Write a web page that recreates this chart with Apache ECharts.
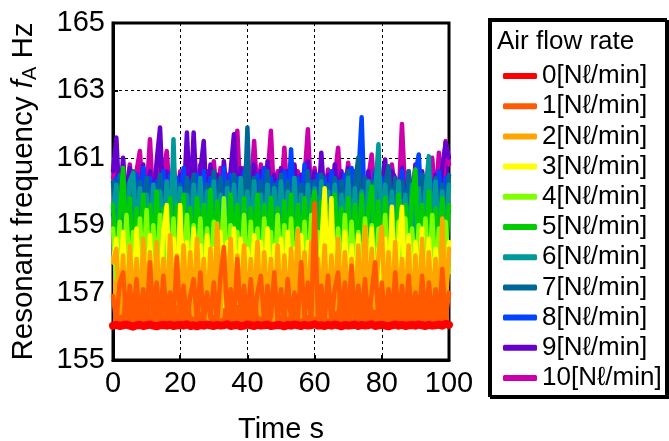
<!DOCTYPE html>
<html>
<head>
<meta charset="utf-8">
<title>Resonant frequency vs time</title>
<script src="https://cdn.jsdelivr.net/npm/echarts@6/dist/echarts.min.js"></script>
<style>
  html, body { margin: 0; padding: 0; background: #fff; }
  #chart { width: 669px; height: 441px; }
</style>
</head>
<body>
<div id="chart"></div>
<script type="text/javascript">
var FONT = '"Liberation Sans", Arial, "DejaVu Sans", sans-serif';

/* legend labels and colours, 0 .. 10 Nl/min */
var flowNames = ['0[N\u2113/min]', '1[N\u2113/min]', '2[N\u2113/min]', '3[N\u2113/min]', '4[N\u2113/min]',
    '5[N\u2113/min]', '6[N\u2113/min]', '7[N\u2113/min]', '8[N\u2113/min]', '9[N\u2113/min]', '10[N\u2113/min]'];
var flowColors = ['#ff0000', '#ff5a00', '#ffa500', '#ffff00', '#80ff00', '#00cc00',
    '#009999', '#006699', '#0044ff', '#6600cc', '#cc00aa'];

/* axis ticks */
var xTicks = [0, 20, 40, 60, 80, 100];
var yTicks = [155, 157, 159, 161, 163, 165];

/* samples, one per second, t = 0 .. 100 s */
var f0 = [156.02,156.04,156.01,156.03,156.05,156.02,155.99,156.03,156.04,156.01,
    156.03,156.05,156.02,156.00,156.03,156.04,156.02,156.05,156.01,156.03,
    156.04,156.02,156.06,156.01,156.03,156.00,156.04,156.02,156.05,156.03,
    156.01,156.04,156.02,156.03,156.06,156.01,156.03,156.04,156.00,156.02,
    156.05,156.03,156.01,156.04,156.02,156.03,156.05,156.01,156.02,156.04,
    156.03,156.00,156.04,156.02,156.05,156.03,156.01,156.04,156.02,156.03,
    156.06,156.02,156.03,156.01,156.04,156.02,156.05,156.03,156.00,156.04,
    156.02,156.03,156.05,156.01,156.04,156.02,156.03,156.06,156.01,156.03,
    156.04,156.02,156.00,156.03,156.05,156.02,156.04,156.01,156.03,156.04,
    156.02,156.05,156.03,156.01,156.04,156.02,156.03,156.05,156.02,156.07,
    156.04];
var f1 = [156.9,156.12,157.3,157.6,156.15,157.2,156.2,157.4,156.12,157.1,
    156.25,157.9,156.15,157.3,156.1,157.5,156.3,157.0,156.12,158.05,
    156.2,157.2,156.12,156.9,157.4,156.15,157.6,156.12,157.0,156.25,
    157.3,156.1,157.5,158.35,156.2,157.1,156.15,158.0,156.25,157.2,
    156.12,157.4,156.2,157.0,157.5,156.12,157.2,156.25,157.6,156.15,
    157.1,156.12,157.4,156.2,157.0,156.15,157.9,156.25,157.3,156.1,
    159.65,156.2,157.2,156.15,157.5,156.12,157.1,157.6,156.2,157.3,
    156.15,157.8,156.12,157.2,156.25,157.4,156.12,157.0,157.9,156.2,
    157.3,156.15,157.1,156.25,157.6,156.12,157.2,156.2,157.5,156.15,
    157.0,156.25,157.5,156.12,157.3,156.2,157.1,156.15,157.7,156.25,
    157.0];
var f2 = [157.9,158.3,156.4,158.1,156.3,158.4,156.55,158.0,156.35,158.6,
    156.5,158.2,156.2,158.5,156.6,158.0,156.35,158.7,156.4,158.1,
    156.3,158.4,156.55,158.2,156.35,158.6,156.5,158.0,156.2,158.3,
    156.4,159.05,156.3,158.2,156.6,158.6,156.35,158.1,156.55,158.4,
    156.3,158.0,156.5,158.5,156.35,158.2,156.6,158.0,156.2,158.4,
    156.4,158.1,156.35,158.3,156.55,158.85,156.3,158.2,156.4,158.5,
    156.35,158.0,156.55,158.4,156.3,158.1,156.5,158.6,156.35,158.2,
    156.6,158.0,156.2,158.4,156.4,158.95,156.35,158.3,156.55,158.1,
    158.95,156.3,158.2,156.5,158.5,156.35,158.0,156.6,158.4,156.3,
    158.1,156.4,158.6,156.35,158.2,156.55,158.0,156.3,159.2,156.5,
    158.3];
var f3 = [157.9,158.6,156.7,158.8,156.9,158.4,156.6,158.9,157.0,158.5,
    156.8,158.7,156.7,158.3,157.1,158.8,159.6,156.8,158.6,156.7,
    159.6,156.9,158.5,156.6,158.9,157.0,158.4,156.8,158.7,156.7,
    158.3,156.9,158.8,156.6,158.5,157.0,158.9,156.7,158.6,156.8,
    158.3,157.1,158.7,156.7,158.5,156.9,158.9,156.6,158.4,157.0,
    158.6,156.8,158.8,156.7,158.3,156.9,158.7,156.6,158.5,157.1,
    158.9,156.7,158.4,160.1,156.8,159.8,156.9,158.6,156.6,158.8,
    157.0,158.4,156.8,158.7,156.7,158.5,156.9,158.9,156.6,158.3,
    157.0,158.6,156.8,159.55,156.7,158.4,159.55,156.9,158.7,156.6,
    158.5,157.1,158.9,156.7,158.6,156.8,158.3,157.0,158.8,156.7,
    158.5];
var f4 = [158.9,157.4,159.1,157.2,159.3,157.5,158.8,157.3,159.2,157.6,
    159.45,157.2,159.0,157.5,159.3,157.3,158.9,157.6,159.2,157.2,
    158.8,157.5,159.3,157.3,159.0,157.6,159.2,157.2,158.9,157.4,
    159.1,157.5,157.7,159.8,157.3,159.0,157.6,158.8,157.4,159.3,
    157.2,159.1,157.5,158.9,157.3,159.2,157.6,158.8,157.2,159.3,
    157.4,159.0,157.5,159.2,157.3,158.9,157.6,159.1,157.2,159.3,
    157.4,158.8,157.5,159.0,157.3,159.2,157.6,158.9,157.2,159.3,
    157.4,159.1,157.5,158.8,157.3,159.2,157.6,159.0,157.2,158.9,
    157.5,159.3,157.3,158.8,157.6,159.1,157.2,159.2,157.5,158.9,
    157.3,159.0,157.6,159.2,157.2,159.3,157.4,158.9,157.5,159.1,
    157.6];
var f5 = [159.6,158.0,159.3,160.7,158.1,159.8,157.9,159.5,158.2,159.9,
    157.8,159.6,158.1,160.0,157.9,159.5,158.2,159.8,158.0,159.6,
    157.8,159.9,158.1,159.5,157.9,159.8,158.2,159.6,158.0,160.05,
    157.8,159.7,158.1,159.5,157.9,159.9,158.2,159.6,158.0,159.8,
    157.8,159.5,158.1,159.9,157.9,159.6,158.2,159.8,158.0,159.5,
    157.8,159.7,158.1,159.9,157.9,159.6,158.2,159.8,158.0,159.5,
    160.0,157.8,159.7,158.1,159.6,157.9,159.9,158.2,159.5,158.0,
    159.8,157.8,159.6,158.1,159.9,157.9,159.5,160.15,158.0,159.7,
    157.8,159.8,158.1,159.5,157.9,159.9,158.2,159.6,158.0,159.8,
    160.65,157.8,159.6,158.1,160.0,157.9,159.5,158.2,159.8,158.0,
    159.6];
var f6 = [159.5,160.2,158.4,160.0,158.6,160.3,160.55,158.5,160.1,158.3,
    159.9,158.7,160.2,158.4,160.0,158.6,160.3,158.5,161.55,158.3,
    160.1,158.7,159.9,158.4,160.2,158.6,160.4,158.3,160.0,158.5,
    160.3,158.7,159.9,158.4,160.1,158.6,160.2,158.3,160.4,158.5,
    160.0,158.7,160.3,158.4,159.9,158.6,160.2,158.3,160.1,158.7,
    160.3,158.5,160.0,158.4,160.4,158.6,159.9,158.3,160.2,158.7,
    160.1,158.5,160.3,158.4,160.0,158.6,160.2,158.3,159.9,158.7,
    160.4,158.5,160.1,158.4,160.0,158.6,160.3,158.3,159.9,161.4,
    158.5,160.2,158.7,160.0,158.4,160.3,158.6,159.9,158.3,160.2,
    158.7,160.1,158.5,160.0,161.05,158.4,160.3,158.6,160.0,158.5,
    160.2];
var f7 = [160.3,158.9,160.5,159.0,160.2,158.8,160.6,159.1,160.3,158.9,
    160.4,159.0,160.2,158.8,160.5,159.1,160.3,158.9,160.6,159.0,
    160.2,158.8,160.4,159.1,160.5,158.9,160.3,159.0,160.2,158.8,
    160.6,159.1,160.4,158.9,160.3,159.0,160.5,158.8,160.2,159.1,
    161.9,158.9,160.4,159.0,160.3,158.8,160.6,159.1,160.2,158.9,
    160.5,159.0,160.3,158.8,160.4,159.1,160.2,158.9,160.6,159.0,
    160.3,158.8,160.5,159.1,160.2,158.9,160.4,159.0,160.3,158.8,
    160.6,159.1,160.2,161.0,158.9,160.4,159.0,160.3,158.8,160.5,
    159.1,160.2,160.75,158.9,160.4,159.0,160.3,158.8,160.6,159.1,
    160.2,158.9,160.5,159.0,160.3,158.8,160.4,159.1,160.2,158.9,
    160.5];
var f8 = [159.3,160.4,159.2,160.6,159.4,160.3,159.1,160.5,159.3,160.7,
    159.2,160.4,159.4,160.3,159.1,160.6,159.3,160.5,159.2,160.4,
    159.4,160.7,159.1,160.3,159.3,160.5,159.2,160.6,159.4,160.4,
    159.1,160.3,159.3,160.7,159.2,160.5,159.4,160.4,159.1,160.6,
    159.3,160.3,159.2,160.5,159.4,160.7,159.1,160.4,159.3,160.3,
    159.2,160.6,159.4,161.25,159.1,160.4,159.3,160.8,159.2,160.3,
    159.4,160.5,159.1,160.4,159.3,160.6,159.2,160.3,159.4,160.5,
    159.1,160.7,159.3,160.4,162.2,159.2,160.3,159.4,160.6,159.1,
    160.4,159.3,160.5,159.2,160.3,159.4,160.6,159.1,160.4,159.3,
    160.5,161.1,159.2,160.4,159.4,160.3,159.1,160.6,159.3,160.4,
    159.4];
var f9 = [160.6,161.6,159.5,161.0,159.6,160.7,159.4,160.5,159.7,160.8,
    159.5,160.6,159.6,160.9,161.9,159.5,160.6,159.7,160.8,159.4,
    160.5,159.6,161.75,159.5,161.75,159.7,160.6,161.5,159.4,160.8,
    159.6,160.5,159.5,160.9,159.7,160.6,161.7,159.4,160.7,159.6,
    160.5,159.5,160.8,159.7,160.6,159.4,160.9,159.6,160.5,159.5,
    160.7,159.7,160.6,159.4,160.8,159.6,160.5,159.5,160.9,159.7,
    160.6,159.4,161.15,159.6,160.5,159.5,160.8,159.7,160.6,159.4,
    160.7,159.6,160.5,159.5,160.9,159.7,160.6,159.4,160.5,159.6,
    160.3,160.95,159.5,160.6,160.4,159.7,160.7,159.4,160.5,159.6,
    160.8,159.5,160.6,159.7,160.9,159.4,160.5,159.6,160.7,161.45,
    161.0];
var f10 = [160.4,160.9,159.7,160.7,159.8,160.8,159.6,160.6,161.2,159.7,
    159.9,161.55,159.6,160.7,159.8,160.5,161.2,159.7,160.8,159.6,
    160.6,159.8,160.9,159.7,160.5,159.9,160.8,159.6,160.6,159.8,
    160.9,159.7,160.7,159.6,160.5,159.8,160.4,161.8,159.7,160.7,
    159.6,159.9,161.5,159.8,160.8,159.7,160.4,161.8,159.6,160.6,
    159.8,161.3,159.7,160.8,159.6,160.6,159.9,160.4,161.85,159.7,
    160.7,159.6,160.5,159.8,160.65,159.7,160.4,161.3,159.6,159.9,
    160.85,159.7,160.6,159.8,160.5,159.6,160.4,161.1,159.7,160.7,
    159.8,160.5,159.6,160.8,159.9,159.7,162.0,159.8,160.6,159.6,
    160.7,159.7,160.5,159.9,159.8,161.0,159.7,161.15,159.9,161.5,
    160.8];

var flowData = [f0, f1, f2, f3, f4, f5, f6, f7, f8, f9, f10];

/* build [t, f] pairs; highest flow drawn first so 0 Nl/min ends up on top */
var seriesList = [];
for (var k = flowData.length - 1; k >= 0; k--) {
    var pts = [];
    for (var i = 0; i < flowData[k].length; i++) {
        pts.push([i, flowData[k][i]]);
    }
    var s = {
        name: flowNames[k],
        type: 'line',
        data: pts,
        symbol: 'none',
        color: flowColors[k],
        lineStyle: { width: k === 0 ? 8 : 4.5, color: flowColors[k], cap: 'round', join: 'round' },
        animation: false
    };
    // dense traces look solid under their spikes: fill down to the red 0 Nl/min band
    if (k > 0) {
        s.areaStyle = { color: flowColors[k], opacity: 1, origin: 156.0 };
    }
    seriesList.push(s);
}

var chart = echarts.init(document.getElementById('chart'), null, { renderer: 'canvas' });
var option = {
    animation: false,
    backgroundColor: '#fff',
    grid: {
        left: 113, right: 220, top: 23, bottom: 81,
        outerBoundsMode: 'none',
        show: true, borderColor: '#000', borderWidth: 3, backgroundColor: 'transparent'
    },
    xAxis: {
        type: 'value',
        min: xTicks[0], max: xTicks[xTicks.length - 1], interval: 20,
        name: 'Time s', nameLocation: 'middle', nameGap: 55,
        nameTextStyle: { fontSize: 29, color: '#000', fontFamily: FONT },
        axisLine: { show: true, lineStyle: { color: '#000', width: 3 } },
        axisTick: { show: true, inside: true, length: 5, lineStyle: { color: '#000', width: 2 } },
        axisLabel: { fontSize: 29, color: '#000', fontFamily: FONT, margin: 9 },
        splitLine: { show: true, lineStyle: { color: '#000', width: 1, type: [3, 3] } }
    },
    yAxis: {
        type: 'value',
        min: yTicks[0], max: yTicks[yTicks.length - 1], interval: 2,
        name: 'Resonant frequency {i|f}{s|A} Hz', nameLocation: 'middle', nameGap: 73, nameRotate: 90,
        nameTextStyle: {
            fontSize: 29.5, color: '#000', fontFamily: FONT, lineHeight: 33,
            rich: {
                i: { fontSize: 29.5, fontStyle: 'italic', color: '#000', fontFamily: FONT, lineHeight: 33 },
                s: { fontSize: 20, color: '#000', fontFamily: FONT, verticalAlign: 'bottom', lineHeight: 20 }
            }
        },
        axisLine: { show: true, lineStyle: { color: '#000', width: 3 } },
        axisTick: { show: true, inside: true, length: 5, lineStyle: { color: '#000', width: 2 } },
        axisLabel: { fontSize: 29, color: '#000', fontFamily: FONT, margin: 8 },
        splitLine: { show: true, lineStyle: { color: '#000', width: 1, type: [3, 3] } }
    },
    legend: {
        orient: 'vertical',
        left: 498, top: 58,
        data: flowNames,
        icon: 'roundRect',
        itemWidth: 34, itemHeight: 6,
        itemGap: 4.2,
        selectedMode: false,
        textStyle: { fontSize: 26, color: '#000', fontFamily: FONT, lineHeight: 26 }
    },
    graphic: [
        {
            type: 'rect', z: -1,
            shape: { x: 489, y: 19, width: 177, height: 377 },
            style: { fill: '#fff', stroke: '#000', lineWidth: 2, shadowColor: '#000', shadowOffsetX: 2, shadowOffsetY: 2, shadowBlur: 0 }
        },
        {
            type: 'text', left: 497, top: 29,
            style: { text: 'Air flow rate', fontSize: 26, fill: '#000', fontFamily: FONT }
        }
    ],
    series: seriesList
};
chart.setOption(option);
</script>
</body>
</html>
